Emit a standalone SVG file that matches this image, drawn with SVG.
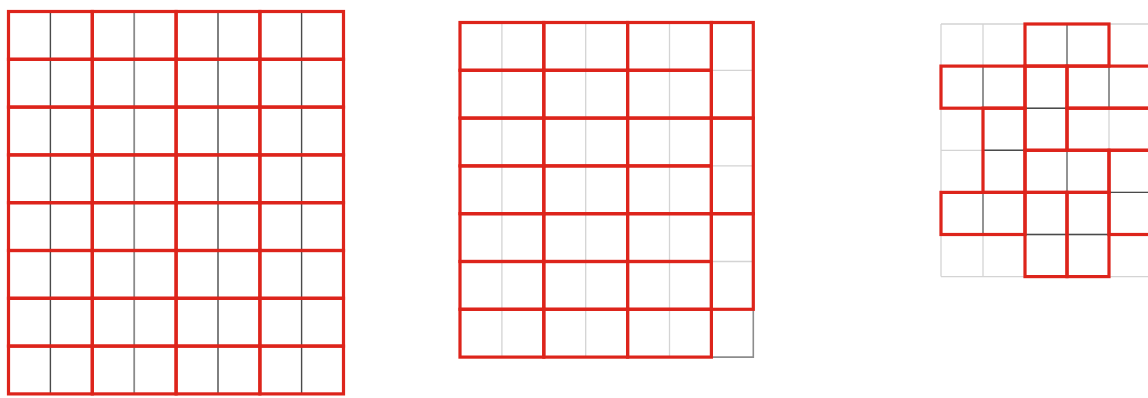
<svg xmlns="http://www.w3.org/2000/svg" width="1148" height="398" viewBox="0 0 1148 398">
<style>
.bg{fill:#ffffff}
.grid{stroke:#d4d4d4;stroke-width:1.3;fill:none}
.div{stroke:#4a4a4a;stroke-width:1.4;fill:none}
.divm{stroke:#8a8a8a;stroke-width:1.8;fill:none}
.divl{stroke:#c8c8c8;stroke-width:1.6;fill:none}
.dom{fill:none;stroke:#dd241b;stroke-width:3.2;stroke-linejoin:miter}
.free{fill:none;stroke:#8c8c8c;stroke-width:1.6}
</style>
<rect class="bg" x="0" y="0" width="1148" height="398"/>

<g id="grid-8x8">
  <path class="div" d="M50.4 11.5V393.9M218 11.5V393.9M301.6 11.5V393.9"/>
  <path class="divm" d="M134.2 11.5V393.9"/>
  <g id="tiles-8x8">
    <rect class="dom" x="8.5" y="11.5" width="83.8" height="47.8"/>
    <rect class="dom" x="92.3" y="11.5" width="83.8" height="47.8"/>
    <rect class="dom" x="176.1" y="11.5" width="83.8" height="47.8"/>
    <rect class="dom" x="259.9" y="11.5" width="83.6" height="47.8"/>
    <rect class="dom" x="8.5" y="59.3" width="83.8" height="47.8"/>
    <rect class="dom" x="92.3" y="59.3" width="83.8" height="47.8"/>
    <rect class="dom" x="176.1" y="59.3" width="83.8" height="47.8"/>
    <rect class="dom" x="259.9" y="59.3" width="83.6" height="47.8"/>
    <rect class="dom" x="8.5" y="107.1" width="83.8" height="47.8"/>
    <rect class="dom" x="92.3" y="107.1" width="83.8" height="47.8"/>
    <rect class="dom" x="176.1" y="107.1" width="83.8" height="47.8"/>
    <rect class="dom" x="259.9" y="107.1" width="83.6" height="47.8"/>
    <rect class="dom" x="8.5" y="154.9" width="83.8" height="47.8"/>
    <rect class="dom" x="92.3" y="154.9" width="83.8" height="47.8"/>
    <rect class="dom" x="176.1" y="154.9" width="83.8" height="47.8"/>
    <rect class="dom" x="259.9" y="154.9" width="83.6" height="47.8"/>
    <rect class="dom" x="8.5" y="202.7" width="83.8" height="47.8"/>
    <rect class="dom" x="92.3" y="202.7" width="83.8" height="47.8"/>
    <rect class="dom" x="176.1" y="202.7" width="83.8" height="47.8"/>
    <rect class="dom" x="259.9" y="202.7" width="83.6" height="47.8"/>
    <rect class="dom" x="8.5" y="250.5" width="83.8" height="47.8"/>
    <rect class="dom" x="92.3" y="250.5" width="83.8" height="47.8"/>
    <rect class="dom" x="176.1" y="250.5" width="83.8" height="47.8"/>
    <rect class="dom" x="259.9" y="250.5" width="83.6" height="47.8"/>
    <rect class="dom" x="8.5" y="298.3" width="83.8" height="47.8"/>
    <rect class="dom" x="92.3" y="298.3" width="83.8" height="47.8"/>
    <rect class="dom" x="176.1" y="298.3" width="83.8" height="47.8"/>
    <rect class="dom" x="259.9" y="298.3" width="83.6" height="47.8"/>
    <rect class="dom" x="8.5" y="346.1" width="83.8" height="47.8"/>
    <rect class="dom" x="92.3" y="346.1" width="83.8" height="47.8"/>
    <rect class="dom" x="176.1" y="346.1" width="83.8" height="47.8"/>
    <rect class="dom" x="259.9" y="346.1" width="83.6" height="47.8"/>
  </g>
</g>

<g id="grid-7x7">
  <path class="grid" d="M501.9 22.5V357.1M585.7 22.5V357.1M669.5 22.5V357.1M711.4 70.3H753.3M711.4 165.9H753.3M711.4 261.5H753.3"/>
  <path class="free" d="M711.4 357.1H753.3V309.3"/>
  <g id="tiles-7x7">
    <rect class="dom" x="460" y="22.5" width="83.8" height="47.8"/>
    <rect class="dom" x="543.8" y="22.5" width="83.8" height="47.8"/>
    <rect class="dom" x="627.6" y="22.5" width="83.8" height="47.8"/>
    <rect class="dom" x="460" y="70.3" width="83.8" height="47.8"/>
    <rect class="dom" x="543.8" y="70.3" width="83.8" height="47.8"/>
    <rect class="dom" x="627.6" y="70.3" width="83.8" height="47.8"/>
    <rect class="dom" x="460" y="118.1" width="83.8" height="47.8"/>
    <rect class="dom" x="543.8" y="118.1" width="83.8" height="47.8"/>
    <rect class="dom" x="627.6" y="118.1" width="83.8" height="47.8"/>
    <rect class="dom" x="460" y="165.9" width="83.8" height="47.8"/>
    <rect class="dom" x="543.8" y="165.9" width="83.8" height="47.8"/>
    <rect class="dom" x="627.6" y="165.9" width="83.8" height="47.8"/>
    <rect class="dom" x="460" y="213.7" width="83.8" height="47.8"/>
    <rect class="dom" x="543.8" y="213.7" width="83.8" height="47.8"/>
    <rect class="dom" x="627.6" y="213.7" width="83.8" height="47.8"/>
    <rect class="dom" x="460" y="261.5" width="83.8" height="47.8"/>
    <rect class="dom" x="543.8" y="261.5" width="83.8" height="47.8"/>
    <rect class="dom" x="627.6" y="261.5" width="83.8" height="47.8"/>
    <rect class="dom" x="460" y="309.3" width="83.8" height="47.8"/>
    <rect class="dom" x="543.8" y="309.3" width="83.8" height="47.8"/>
    <rect class="dom" x="627.6" y="309.3" width="83.8" height="47.8"/>
    <rect class="dom" x="711.4" y="22.5" width="41.9" height="95.6"/>
    <rect class="dom" x="711.4" y="118.1" width="41.9" height="95.6"/>
    <rect class="dom" x="711.4" y="213.7" width="41.9" height="95.6"/>
  </g>
</g>

<g id="grid-holes">
  <path class="grid" d="M941 24V276.6M983 24V276.6M1025 24V276.6M1067 24V276.6M1109 24V276.6M1151 24V276.6M941 24H1151M941 66.1H1151M941 108.2H1151M941 150.3H1151M941 192.4H1151M941 234.5H1151M941 276.6H1151"/>
  <path class="divm" d="M1067 24V66.1M983 66.1V108.2M1109 66.1V108.2M1067 150.3V192.4M983 192.4V234.5"/>
  <path class="div" d="M1025 108.2H1067M983 150.3H1025M1109 192.4H1151M1025 234.5H1109"/>
  <g id="tiles-holes">
    <rect class="dom" x="1025" y="24" width="84" height="42.1"/>
    <rect class="dom" x="941" y="66.1" width="84" height="42.1"/>
    <rect class="dom" x="1025" y="66.1" width="42" height="84.2"/>
    <rect class="dom" x="1067" y="66.1" width="84" height="42.1"/>
    <rect class="dom" x="983" y="108.2" width="42" height="84.2"/>
    <rect class="dom" x="1067" y="108.2" width="84" height="42.1"/>
    <rect class="dom" x="1025" y="150.3" width="84" height="42.1"/>
    <rect class="dom" x="1109" y="150.3" width="42" height="84.2"/>
    <rect class="dom" x="941" y="192.4" width="84" height="42.1"/>
    <rect class="dom" x="1025" y="192.4" width="42" height="84.2"/>
    <rect class="dom" x="1067" y="192.4" width="42" height="84.2"/>
  </g>
</g>
</svg>
